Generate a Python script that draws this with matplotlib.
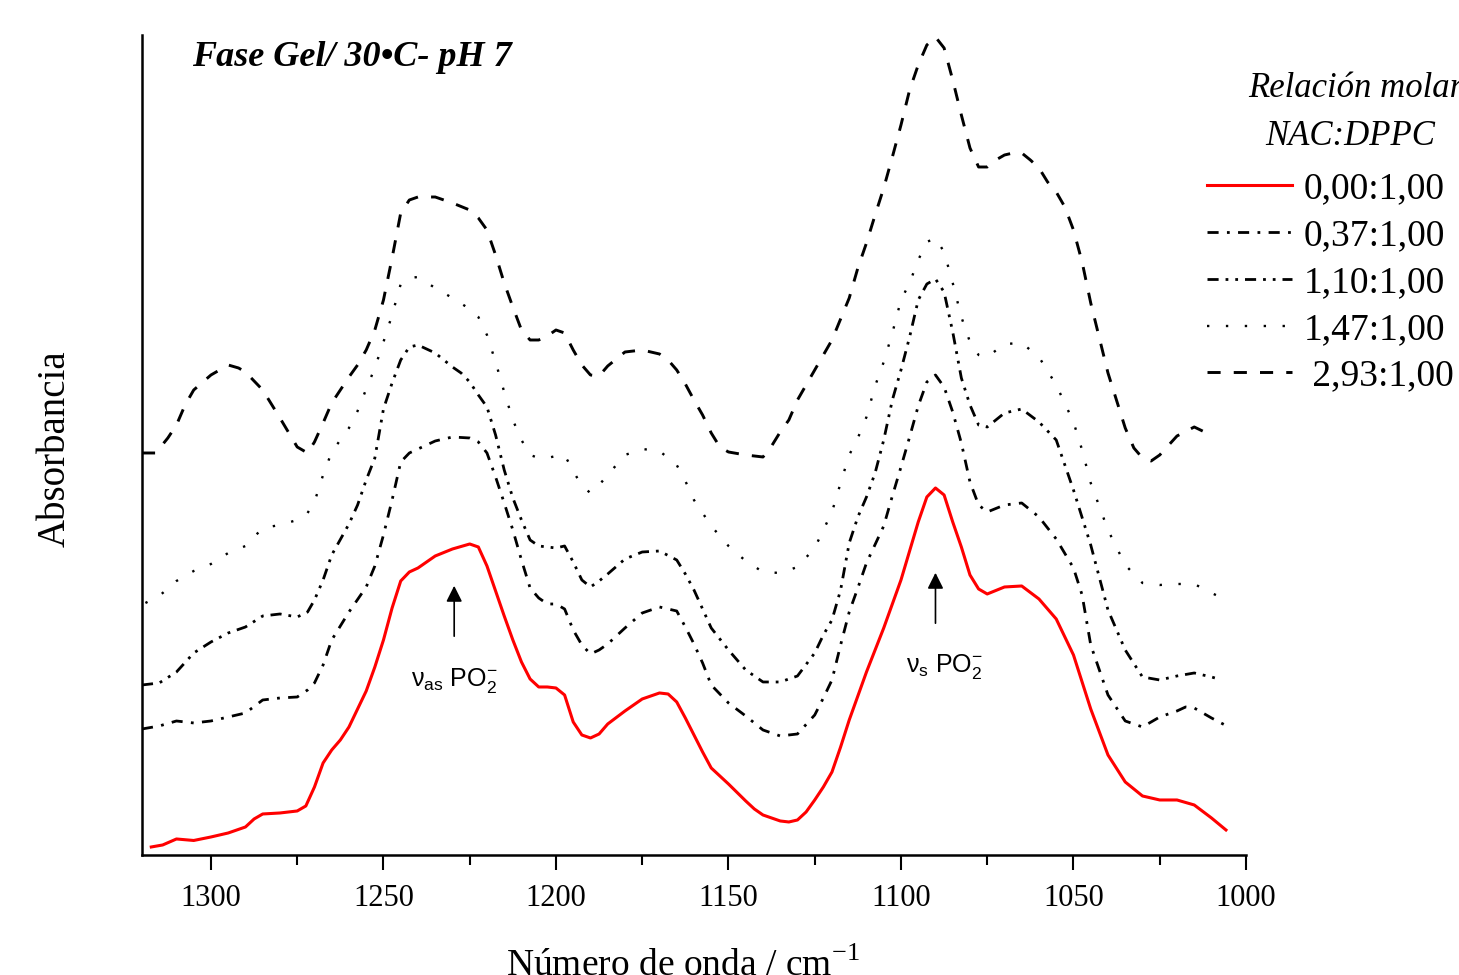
import matplotlib
import matplotlib.pyplot as plt
from matplotlib.ticker import MultipleLocator

matplotlib.use("Agg")

plt.rcParams["font.family"] = ["Liberation Serif", "DejaVu Serif"]
plt.rcParams["mathtext.fontset"] = "custom"
plt.rcParams["mathtext.rm"] = "Liberation Sans"

# Espectro 0,00:1,00 (linea roja)
wn_000 = [1317.3, 1314, 1310, 1305, 1300, 1295, 1290, 1287.5, 1285, 1280, 1275, 1272.5,
          1270, 1267.5, 1265, 1262.5, 1260, 1257.5, 1255, 1252.5, 1250, 1247.5, 1245,
          1242.5, 1240, 1235, 1230, 1225, 1222.5, 1220, 1217.5, 1215, 1212.5, 1210,
          1207.5, 1205, 1202.5, 1200, 1197.5, 1195, 1192.5, 1190, 1187.5, 1185, 1180,
          1175, 1170, 1167.5, 1165, 1162.5, 1160, 1157.5, 1155, 1150, 1145, 1142.5,
          1140, 1135, 1132.5, 1130, 1127.5, 1125, 1122.5, 1120, 1117.5, 1115, 1110,
          1105, 1100, 1095, 1092.5, 1090, 1087.5, 1085, 1082.5, 1080, 1077.5, 1075,
          1070, 1065, 1060, 1055, 1050, 1045, 1040, 1035, 1030, 1025, 1020, 1015,
          1010, 1005.8]
abs_000 = [0.008, 0.010, 0.016, 0.0145, 0.018, 0.022, 0.028, 0.036, 0.041, 0.042, 0.044, 0.049,
           0.068, 0.092, 0.105, 0.115, 0.128, 0.146, 0.164, 0.188, 0.215, 0.247, 0.274,
           0.283, 0.287, 0.299, 0.306, 0.311, 0.308, 0.289, 0.264, 0.239, 0.215, 0.193,
           0.176, 0.168, 0.168, 0.167, 0.160, 0.133, 0.120, 0.117, 0.121, 0.131, 0.144,
           0.156, 0.162, 0.161, 0.153, 0.137, 0.120, 0.103, 0.087, 0.071, 0.054, 0.046,
           0.040, 0.034, 0.033, 0.035, 0.043, 0.055, 0.068, 0.083, 0.108, 0.135, 0.183,
           0.227, 0.275, 0.333, 0.358, 0.367, 0.360, 0.333, 0.308, 0.280, 0.266, 0.261,
           0.268, 0.269, 0.256, 0.236, 0.200, 0.146, 0.100, 0.073, 0.059, 0.055, 0.055, 0.050,
           0.037, 0.025]

# Espectro 0,37:1,00
wn_037 = [1320, 1315, 1310, 1305, 1300, 1295, 1290, 1285, 1280, 1275, 1272, 1270, 1267.5,
          1265, 1260, 1255, 1252.5, 1250, 1247.5, 1245, 1242.5, 1240, 1235, 1230, 1225,
          1222.5, 1220, 1217.5, 1215, 1212.5, 1210, 1207.5, 1205, 1202.5, 1200, 1197.5,
          1195, 1192.5, 1190, 1187.5, 1185, 1180, 1175, 1170, 1165, 1162.5, 1160, 1157.5,
          1155, 1150, 1145, 1140, 1135, 1130, 1125, 1122.5, 1120, 1117.5, 1115, 1112.5,
          1110, 1105, 1102.5, 1100, 1097.5, 1095, 1092.5, 1090, 1087.5, 1085, 1082.5,
          1080, 1077.5, 1075, 1070, 1065, 1060, 1055, 1050, 1047.5, 1045, 1040, 1035,
          1030, 1025, 1020, 1017.5, 1015, 1010, 1005]
abs_037 = [0.126, 0.129, 0.134, 0.132, 0.134, 0.138, 0.142, 0.155, 0.157, 0.158, 0.165, 0.172, 0.190,
           0.215, 0.243, 0.268, 0.289, 0.320, 0.355, 0.393, 0.402, 0.406, 0.414, 0.418, 0.417,
           0.413, 0.402, 0.378, 0.352, 0.325, 0.295, 0.267, 0.257, 0.251, 0.251, 0.246,
           0.225, 0.210, 0.201, 0.205, 0.211, 0.227, 0.242, 0.248, 0.244, 0.228, 0.211, 0.192,
           0.170, 0.152, 0.139, 0.125, 0.119, 0.121, 0.140, 0.157, 0.175, 0.210, 0.243, 0.267,
           0.292, 0.329, 0.359, 0.388, 0.418, 0.449, 0.473, 0.480, 0.468, 0.443, 0.412,
           0.373, 0.350, 0.343, 0.350, 0.352, 0.338, 0.316, 0.287, 0.260, 0.210, 0.160, 0.134,
           0.128, 0.138, 0.144, 0.148, 0.147, 0.137, 0.128]

# Espectro 1,10:1,00
wn_110 = [1320, 1315, 1310, 1305, 1300, 1295, 1290, 1285, 1280, 1275, 1272, 1270, 1267.5,
          1265, 1260, 1257.5, 1255, 1252.5, 1250, 1247.5, 1245, 1242.5, 1240, 1235, 1230,
          1227.5, 1225, 1222.5, 1220, 1217.5, 1215, 1212.5, 1210, 1207.5, 1205, 1200,
          1197.5, 1195, 1192.5, 1190, 1187.5, 1185, 1180, 1175, 1170, 1165, 1162.5, 1160,
          1155, 1150, 1145, 1140, 1135, 1130, 1125, 1122.5, 1120, 1117.5, 1115, 1112.5,
          1110, 1107.5, 1105, 1102.5, 1100, 1097.5, 1095, 1092.5, 1090, 1087.5, 1085,
          1082.5, 1080, 1077.5, 1075, 1070, 1065, 1060, 1055, 1050, 1045, 1040, 1035,
          1030, 1025, 1020, 1015, 1010, 1008]
abs_110 = [0.170, 0.172, 0.183, 0.202, 0.213, 0.222, 0.228, 0.239, 0.241, 0.238, 0.243, 0.255, 0.275,
           0.300, 0.331, 0.350, 0.375, 0.397, 0.446, 0.472, 0.495, 0.508, 0.510, 0.502, 0.488,
           0.482, 0.473, 0.460, 0.448, 0.420, 0.385, 0.357, 0.335, 0.315, 0.309, 0.307,
           0.309, 0.293, 0.275, 0.268, 0.274, 0.281, 0.296, 0.303, 0.304, 0.295, 0.281, 0.265,
           0.227, 0.205, 0.185, 0.173, 0.173, 0.179, 0.202, 0.220, 0.235, 0.265, 0.312, 0.338,
           0.358, 0.382, 0.415, 0.455, 0.485, 0.518, 0.555, 0.571, 0.576, 0.563, 0.523,
           0.477, 0.450, 0.430, 0.428, 0.442, 0.446, 0.433, 0.415, 0.365, 0.310, 0.245, 0.205,
           0.178, 0.175, 0.179, 0.182, 0.178, 0.176]

# Espectro 1,47:1,00
wn_147 = [1319, 1315, 1310, 1305, 1300, 1295, 1290, 1285, 1280, 1275, 1272, 1270, 1267.5,
          1265, 1260, 1257.5, 1255, 1252.5, 1250, 1247.5, 1245, 1242.5, 1240, 1235, 1230,
          1225, 1222.5, 1220, 1217.5, 1215, 1212.5, 1210, 1207.5, 1205, 1202.5, 1200,
          1197.5, 1195, 1192.5, 1190, 1187.5, 1185, 1180, 1175, 1170, 1165, 1162.5, 1160,
          1155, 1150, 1145, 1140, 1135, 1130, 1125, 1122.5, 1120, 1117.5, 1115, 1112.5,
          1110, 1107.5, 1105, 1102.5, 1100, 1097.5, 1095, 1092.5, 1090, 1087.5, 1085,
          1082.5, 1080, 1077.5, 1075, 1070, 1065, 1060, 1055, 1050, 1047.5, 1045, 1040,
          1035, 1030, 1025, 1020, 1015, 1010, 1005]
abs_147 = [0.252, 0.259, 0.274, 0.284, 0.291, 0.302, 0.309, 0.327, 0.330, 0.335, 0.342, 0.353, 0.380,
           0.403, 0.427, 0.444, 0.466, 0.487, 0.513, 0.540, 0.571, 0.577, 0.578, 0.567, 0.557,
           0.546, 0.538, 0.520, 0.493, 0.463, 0.435, 0.415, 0.400, 0.397, 0.397, 0.399,
           0.400, 0.384, 0.369, 0.362, 0.370, 0.380, 0.400, 0.406, 0.404, 0.390, 0.374, 0.355,
           0.329, 0.309, 0.294, 0.283, 0.282, 0.288, 0.307, 0.325, 0.343, 0.372, 0.400, 0.417,
           0.438, 0.469, 0.493, 0.522, 0.555, 0.572, 0.595, 0.613, 0.617, 0.603, 0.572,
           0.538, 0.513, 0.500, 0.498, 0.511, 0.512, 0.498, 0.470, 0.433, 0.405, 0.372, 0.325,
           0.290, 0.272, 0.270, 0.271, 0.271, 0.262, 0.254]

# Espectro 2,93:1,00
wn_293 = [1320, 1316, 1312.5, 1310, 1307.5, 1305, 1300, 1295, 1292, 1290, 1285, 1280, 1275,
          1272, 1270, 1267.5, 1265, 1262.5, 1260, 1257.5, 1255, 1252.5, 1250, 1247.5, 1245,
          1242.5, 1240, 1235, 1230, 1225, 1222.5, 1220, 1217.5, 1215, 1212.5, 1210,
          1207.5, 1205, 1202.5, 1200, 1197.5, 1195, 1192.5, 1190, 1187.5, 1185, 1180,
          1175, 1170, 1167.5, 1165, 1162.5, 1160, 1157.5, 1155, 1152.5, 1150, 1145, 1140,
          1137.5, 1135, 1132.5, 1130, 1125, 1120, 1115, 1112.5, 1110, 1107.5, 1105,
          1102.5, 1100, 1097.5, 1095, 1092.5, 1090, 1087.5, 1085, 1082.5, 1080, 1077.5,
          1075, 1072.5, 1070, 1067.5, 1065, 1062.5, 1060, 1057.5, 1055, 1052.5, 1050,
          1047.5, 1045, 1040, 1035, 1032.5, 1030, 1027.5, 1025, 1020, 1015, 1012]
abs_293 = [0.402, 0.402, 0.417, 0.430, 0.450, 0.465, 0.480, 0.490, 0.487, 0.483, 0.465, 0.437, 0.408,
           0.402, 0.413, 0.432, 0.452, 0.465, 0.478, 0.490, 0.505, 0.525, 0.555, 0.597, 0.642,
           0.655, 0.658, 0.658, 0.652, 0.645, 0.637, 0.625, 0.600, 0.572, 0.548, 0.525,
           0.515, 0.515, 0.519, 0.525, 0.522, 0.505, 0.490, 0.480, 0.479, 0.489, 0.503,
           0.505, 0.501, 0.495, 0.485, 0.471, 0.455, 0.440, 0.422, 0.408, 0.403, 0.400, 0.398,
           0.409, 0.423, 0.435, 0.455, 0.485, 0.515, 0.557, 0.587, 0.612, 0.640, 0.667,
           0.698, 0.730, 0.765, 0.790, 0.810, 0.818, 0.807, 0.775, 0.740, 0.707, 0.688,
           0.688, 0.695, 0.700, 0.702, 0.702, 0.695, 0.687, 0.673, 0.663, 0.648, 0.625,
           0.593, 0.552, 0.482, 0.427, 0.407, 0.397, 0.394, 0.400, 0.419, 0.428, 0.423]

labels = ["0,00:1,00", "0,37:1,00", "1,10:1,00", "1,47:1,00", " 2,93:1,00"]

fig = plt.figure(figsize=(14.59, 9.75), dpi=100)
ax = fig.add_axes([0.0973, 0.1231, 0.7567, 0.8410])

ax.plot(wn_000, abs_000, color="red", lw=2.2)
ax.plot(wn_037, abs_037, color="black", lw=2.0, linestyle=(0, (4, 3, 1, 3)))
ax.plot(wn_110, abs_110, color="black", lw=2.0, linestyle=(0, (4, 2.5, 1, 2.5, 1, 2.5)))
ax.plot(wn_147, abs_147, color="black", lw=1.7, linestyle=(0, (1, 7)))
ax.plot(wn_293, abs_293, color="black", lw=2.1, linestyle=(0, (4.5, 4.5)))

ax.set_xlim(1320, 1000)
ax.set_ylim(0, 0.82)
ax.xaxis.set_major_locator(MultipleLocator(50))
ax.xaxis.set_minor_locator(MultipleLocator(25))
ax.set_yticks([])
ax.tick_params(axis="x", which="major", direction="out", length=11, width=1.5,
               pad=10, labelsize=22)
ax.tick_params(axis="x", which="minor", direction="out", length=7, width=1.5)
for side in ["top", "right"]:
    ax.spines[side].set_visible(False)
for side in ["left", "bottom"]:
    ax.spines[side].set_linewidth(1.8)

ax.set_xlabel("Número de onda / cm$^{\\mathregular{-1}}$", fontsize=27)
ax.xaxis.set_label_coords(0.49, -0.113)
ax.set_ylabel("Absorbancia", fontsize=28)
ax.yaxis.set_label_coords(-0.062, 0.495)

ax.text(0.045, 0.962, "Fase Gel/ 30•C- pH 7", transform=ax.transAxes,
        fontsize=26, fontweight="bold", style="italic", va="baseline")

# bandas de fosfato
ax.annotate("", xy=(1229.5, 0.272), xytext=(1229.5, 0.216),
            arrowprops=dict(arrowstyle="-|>", color="black", lw=1.2, mutation_scale=24))
ax.text(1229.5, 0.169, "ν$_{\\mathregular{as}}$ PO$_{\\mathregular{2}}^{\\mathregular{-}}$",
        family="Liberation Sans", fontsize=18, ha="center", va="baseline")
ax.annotate("", xy=(1090, 0.285), xytext=(1090, 0.229),
            arrowprops=dict(arrowstyle="-|>", color="black", lw=1.2, mutation_scale=24))
ax.text(1087.5, 0.183, "ν$_{\\mathregular{s}}$ PO$_{\\mathregular{2}}^{\\mathregular{-}}$",
        family="Liberation Sans", fontsize=18, ha="center", va="baseline")

handles = [line for line in ax.get_lines()]
ax.legend(handles, labels, loc="upper left", bbox_to_anchor=(1207 / 1459, 0.824),
          bbox_transform=fig.transFigure, frameon=False, fontsize=27,
          handlelength=2.27, handletextpad=0.3, labelspacing=0.33,
          borderpad=0, borderaxespad=0)

fig.text(1248 / 1459, 1 - 97 / 975, "Relación molar", fontsize=25, style="italic")
fig.text(1350 / 1459, 1 - 145 / 975, "NAC:DPPC", fontsize=25, style="italic", ha="center")

fig.savefig("out.png", dpi=100)
